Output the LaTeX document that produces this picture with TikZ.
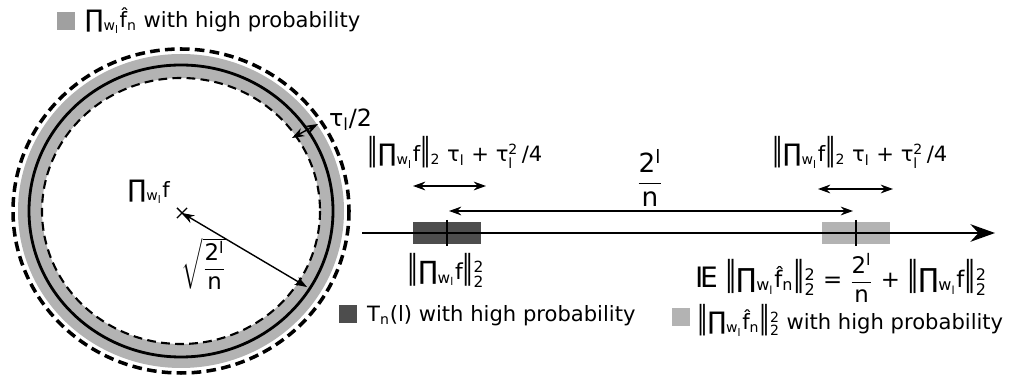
\documentclass[tikz,border=0pt]{standalone}
\usepackage{amsmath}
\usepackage{graphicx}
\usepackage{fontspec}
\setmainfont{DejaVu Sans}
\usetikzlibrary{arrows.meta,shapes.misc}

\definecolor{ringgray}{HTML}{B3B3B3}
\definecolor{topgray}{HTML}{A0A0A0}
\definecolor{darkbox}{HTML}{4D4D4D}
\definecolor{lightbox}{HTML}{B3B3B3}

% pieces of the labels
\newcommand\nbar{\raisebox{0.08em}{\scalebox{1}[1.5]{‖}}}
\newcommand\Pw{\scalebox{1.15}{∏}\textsubscript{w\textsubscript{l}}}
\newcommand\fhat{\^{f}}
\newcommand\supsub[2]{\ensuremath{{}^{\text{#1}}_{\text{#2}}}}
\newcommand\taul{τ\textsubscript{l}}
\newcommand\taulsq{τ\supsub{2}{l}}
\newcommand\nrmsub[1]{\nbar#1\nbar\textsubscript{2}}
\newcommand\nrmsq[1]{\nbar#1\nbar\supsub{2}{2}}
\newcommand\twoln{\ensuremath{\dfrac{\text{2\textsuperscript{l}}}{\text{n}}}}
\newcommand\fs[1]{\fontsize{#1}{#1}\selectfont}

\begin{document}
\begin{tikzpicture}[x=0.02cm, y=-0.02cm,
  every node/.style={font=\fs{12}},
  dbl/.style={arrows={Stealth[length=7pt,width=5pt]-Stealth[length=7pt,width=5pt]}, line width=0.8pt},
  legsq/.style={minimum size=0.36cm, inner sep=0},
  boxmark/.style={minimum width=1.36cm, minimum height=0.44cm, inner sep=0}]
  \useasboundingbox (0,0) rectangle (1013,377);

  % the ring round the projection
  \fill[ringgray, even odd rule] (181,211) ellipse [x radius=163, y radius=157]
    (181,211) ellipse [x radius=139, y radius=133];
  \draw[line width=2pt, dash pattern=on 5.5pt off 3pt] (181,211) ellipse [x radius=168, y radius=162];
  \draw[line width=1.2pt, dash pattern=on 5pt off 3pt] (181,211) ellipse [x radius=139, y radius=133];
  \draw[line width=1.6pt] (181,211) ellipse [x radius=152, y radius=146];

  \node[draw, cross out, minimum size=5pt, inner sep=0, line width=0.8pt] (ctr) at (182,213) {};
  \node[anchor=south east, inner sep=1pt] (ctrlbl) at (172,206) {\Pw f};
  \coordinate (rim) at (307,287);
  \draw[dbl] (ctr.center) -- (rim);
  \node[font=\fs{13}] (radlbl) at (204,264) {$\sqrt{\twoln}$};

  \coordinate (tauin) at (292,138);
  \coordinate (tauout) at (318,124);
  \draw[dbl] (tauin) -- (tauout);
  \node[anchor=west, font=\fs{13.5}] (taulbl) at (323,120) {\taul/2};

  % number line
  \node[fill=darkbox, boxmark] (tbox) at (447,233) {};
  \node[fill=lightbox, boxmark] (ebox) at (856,233) {};
  \coordinate (lstart) at (362,233);
  \coordinate (lend) at (995,233);
  \draw[line width=1.1pt, -{Stealth[length=14pt,width=10pt]}] (lstart) -- (lend);
  \draw[line width=1.1pt] ([yshift=1pt]tbox.north) -- ([yshift=-1pt]tbox.south);
  \draw[line width=1.1pt] ([yshift=1pt]ebox.north) -- ([yshift=-1pt]ebox.south);

  \coordinate (tl1) at (413,186);
  \coordinate (tl2) at (486,186);
  \draw[dbl] (tl1) -- (tl2);
  \coordinate (el1) at (818,189);
  \coordinate (el2) at (893,189);
  \draw[dbl] (el1) -- (el2);
  \coordinate (g1) at (449,211);
  \coordinate (g2) at (853,211);
  \draw[dbl] (g1) -- (g2);

  \node (tlbl) at (455,152) {\nrmsub{\Pw f} \taul{} + \taulsq\,/4};
  \node (elbl) at (860,152) {\nrmsub{\Pw f} \taul{} + \taulsq\,/4};
  \node[font=\fs{15}] (gaplbl) at (650,178) {\twoln};
  \node[font=\fs{12.5}] (tnorm) at (446,270) {\nrmsq{\Pw f}};
  \node[font=\fs{13}] (eqn) at (841,278) {{\fs{16}I\kern-.12em E} \nrmsq{\Pw\fhat\textsubscript{n}} = \twoln{} + \nrmsq{\Pw f}};

  % legend entries
  \node[fill=topgray, legsq] (sqtop) at (66,21) {};
  \node[anchor=west] (legtop) at (79,21) {\Pw\fhat\textsubscript{n} with high probability};
  \node[fill=darkbox, legsq] (sqt) at (348,314) {};
  \node[anchor=west] (legt) at (361,316) {T\textsubscript{n}(l) with high probability};
  \node[fill=lightbox, legsq] (sqe) at (681,317) {};
  \node[anchor=west] (lege) at (691,320) {\nrmsq{\Pw\fhat\textsubscript{n}} with high probability};
\end{tikzpicture}
\end{document}
